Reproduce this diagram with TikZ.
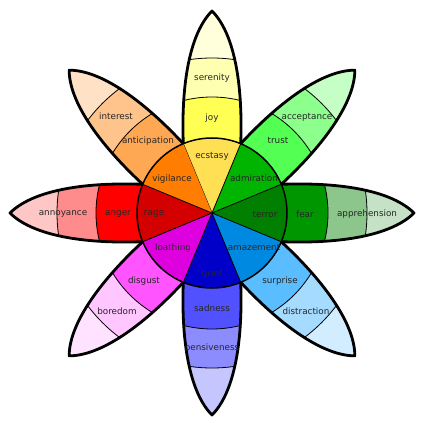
\documentclass[tikz,border=0pt]{standalone}
\usepackage{fontspec}
\setmainfont{DejaVu Sans}

% petal colours, from the centre outwards
\definecolor{ecstasyC}{HTML}{FFE054}
\definecolor{joyC}{HTML}{FFFF54}
\definecolor{serenityC}{HTML}{FFFFB1}
\definecolor{joyTip}{HTML}{FFFFDC}
\definecolor{admirationC}{HTML}{00B400}
\definecolor{trustC}{HTML}{54FF54}
\definecolor{acceptanceC}{HTML}{8CFF8C}
\definecolor{trustTip}{HTML}{C6FFC6}
\definecolor{terrorC}{HTML}{007F00}
\definecolor{fearC}{HTML}{009600}
\definecolor{apprehensionC}{HTML}{8CC68C}
\definecolor{fearTip}{HTML}{C6E2C6}
\definecolor{amazementC}{HTML}{0089E0}
\definecolor{surpriseC}{HTML}{59BDFF}
\definecolor{distractionC}{HTML}{A5DBFF}
\definecolor{surpriseTip}{HTML}{D2EDFF}
\definecolor{griefC}{HTML}{0000C8}
\definecolor{sadnessC}{HTML}{5151FF}
\definecolor{pensivenessC}{HTML}{8C8CFF}
\definecolor{sadnessTip}{HTML}{C6C6FF}
\definecolor{loathingC}{HTML}{DE00DE}
\definecolor{disgustC}{HTML}{FF54FF}
\definecolor{boredomC}{HTML}{FFC6FF}
\definecolor{disgustTip}{HTML}{FFE2FF}
\definecolor{rageC}{HTML}{D40000}
\definecolor{angerC}{HTML}{FF0000}
\definecolor{annoyanceC}{HTML}{FF8C8C}
\definecolor{angerTip}{HTML}{FFC6C6}
\definecolor{vigilanceC}{HTML}{FF7D00}
\definecolor{anticipationC}{HTML}{FFA854}
\definecolor{interestC}{HTML}{FFC48C}
\definecolor{anticipationTip}{HTML}{FFE2C6}

\begin{document}
\begin{tikzpicture}[
    x=1pt, y=1pt,
    emo/.style={font=\fontsize{8.8}{10}\selectfont, text=black!85, inner sep=0pt, text height=6.4pt, text depth=1.7pt},
    rim/.style={line width=2.8pt, line join=round},
    band/.style={line width=0.8pt},
]
\useasboundingbox (-212,-210) rectangle (211,213);

% one petal, axis along +x
\def\petal{(22.5:75) .. controls (130,31) and (180,22) .. (202,0) .. controls (180,-22) and (130,-31) .. (-22.5:75)}

% Petals
\foreach \ang/\ca/\cb/\cc/\cd in {90/ecstasyC/joyC/serenityC/joyTip,
    45/admirationC/trustC/acceptanceC/trustTip,
    0/terrorC/fearC/apprehensionC/fearTip,
    -45/amazementC/surpriseC/distractionC/surpriseTip,
    -90/griefC/sadnessC/pensivenessC/sadnessTip,
    -135/loathingC/disgustC/boredomC/disgustTip,
    180/rageC/angerC/annoyanceC/angerTip,
    135/vigilanceC/anticipationC/interestC/anticipationTip} {
  \begin{scope}[rotate=\ang]
    \fill[\cd] \petal arc[start angle=-22.5, end angle=22.5, radius=75] -- cycle;
    \begin{scope}
      \clip \petal arc[start angle=-22.5, end angle=22.5, radius=75] -- cycle;
      \fill[\cc] (0,0) circle[radius=155];
      \fill[\cb] (0,0) circle[radius=116];
      \draw[band] (0,0) circle[radius=155];
      \draw[band] (0,0) circle[radius=116];
    \end{scope}
    \fill[\ca] (0,0) -- (-22.5:75) arc[start angle=-22.5, end angle=22.5, radius=75] -- cycle;
    \draw[band] (0,0) -- (22.5:75);
    \draw[rim] \petal;
  \end{scope}
}
\draw[line width=1.5pt] (0,0) circle[radius=75];

% Labels
\node[emo] (serenity) at (0,135) {serenity};
\node[emo] (joy) at (0,95) {joy};
\node[emo] (ecstasy) at (0,57) {ecstasy};
\node[emo] (admiration) at (42,34) {admiration};
\node[emo] (trust) at (66,72) {trust};
\node[emo] (acceptance) at (95,96) {acceptance};
\node[emo] (terror) at (53,-2) {terror};
\node[emo] (fear) at (93,-2) {fear};
\node[emo] (apprehension) at (155,-1) {apprehension};
\node[emo] (amazement) at (42,-35) {amazement};
\node[emo] (surprise) at (68,-68) {surprise};
\node[emo] (distraction) at (94,-99) {distraction};
\node[emo] (grief) at (0,-61) {grief};
\node[emo] (sadness) at (0,-96) {sadness};
\node[emo] (pensiveness) at (0,-135) {pensiveness};
\node[emo] (loathing) at (-39,-35) {loathing};
\node[emo] (disgust) at (-68,-68) {disgust};
\node[emo] (boredom) at (-95,-99) {boredom};
\node[emo] (rage) at (-58,0) {rage};
\node[emo] (anger) at (-94,0) {anger};
\node[emo] (annoyance) at (-149,0) {annoyance};
\node[emo] (vigilance) at (-40,34) {vigilance};
\node[emo] (anticipation) at (-64,72) {anticipation};
\node[emo] (interest) at (-96,96) {interest};
\end{tikzpicture}
\end{document}
